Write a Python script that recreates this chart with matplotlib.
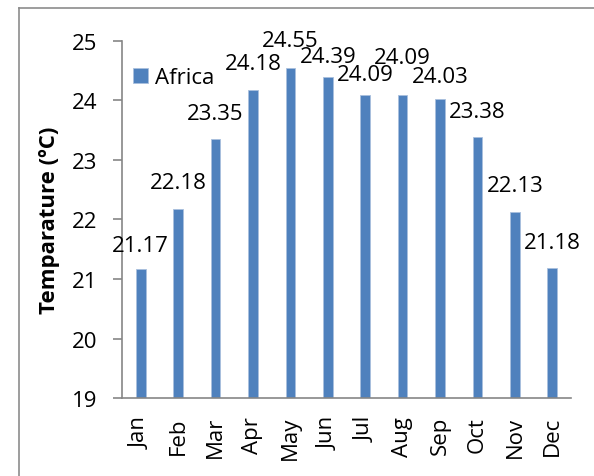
import matplotlib
matplotlib.use("Agg")
import matplotlib.pyplot as plt
from matplotlib.lines import Line2D
import numpy as np

months = ["Jan", "Feb", "Mar", "Apr", "May", "Jun", "Jul", "Aug", "Sep", "Oct", "Nov", "Dec"]
temps = [21.17, 22.18, 23.35, 24.18, 24.55, 24.39, 24.09, 24.09, 24.03, 23.38, 22.13, 21.18]
series_name = "Africa"

# label lift above bar top (points), nudged where labels crowd like in the original
label_lift = [16.6, 18.7, 18.7, 18.7, 19.5, 15.1, 15.1, 27.4, 15.8, 18.7, 18.7, 18.7]

plt.rcParams['font.family'] = ['Open Sans', 'DejaVu Sans']
fs = 16

fig = plt.figure(figsize=(5.94, 4.77), dpi=100)
ax = fig.add_axes([0.2054, 0.1635, 0.7559, 0.7485])

x = np.arange(len(months))
ax.bar(x, [t - 19 for t in temps], bottom=19, width=0.26,
       color="#4F81BD", edgecolor="#A9C0DE", linewidth=0.6, label=series_name)

# value labels above bars
for xi, t, lift in zip(x, temps, label_lift):
    ax.annotate("%.2f" % t, (xi, t), xytext=(0, lift), textcoords="offset points",
                ha="center", va="center", fontsize=fs)

ax.set_xlim(-0.5, len(months) - 0.5)
ax.set_ylim(19, 25)
ax.set_yticks(range(19, 26))
ax.set_xticks(x)
ax.set_xticklabels(months, rotation=90, fontsize=fs)
ax.tick_params(axis="y", labelsize=fs, length=6.5, width=1.2, color="#868686", pad=11)
ax.tick_params(axis="x", length=0, pad=13)
for s in ["top", "right"]:
    ax.spines[s].set_visible(False)
for s in ["left", "bottom"]:
    ax.spines[s].set_color("#868686")
    ax.spines[s].set_linewidth(1.2)

ax.set_ylabel("Temparature (ºC)", fontsize=fs, fontweight="bold", labelpad=9)

ax.legend(loc="upper left", bbox_to_anchor=(-0.01, 0.97), frameon=False, fontsize=fs,
          handlelength=0.65, handleheight=0.65, handletextpad=0.35, borderaxespad=0.3)

# outer chart border (left and top visible)
fig.add_artist(Line2D([0.032, 0.032], [0.0, 0.981], color="#8c8c8c", lw=1.2, transform=fig.transFigure))
fig.add_artist(Line2D([0.032, 1.0], [0.981, 0.981], color="#8c8c8c", lw=1.2, transform=fig.transFigure))

fig.savefig("out.png", dpi=100)
